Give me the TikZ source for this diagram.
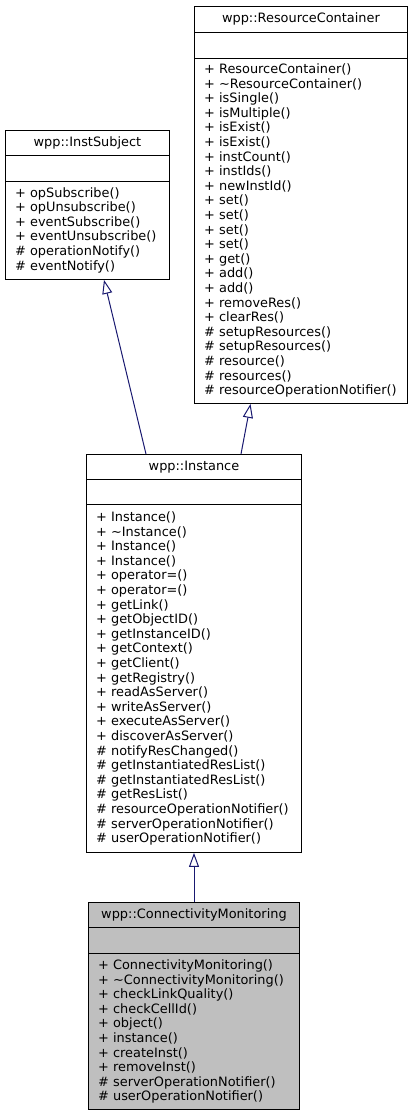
\documentclass[tikz,border=0pt]{standalone}
\usepackage{fontspec}
\setmainfont{DejaVu Sans}
\usetikzlibrary{arrows.meta,calc}
\definecolor{edgeblue}{HTML}{191970}
\definecolor{cmgray}{HTML}{BFBFBF}
\tikzset{
  classbox/.style={draw=black, line width=0.9pt, fill=white, inner sep=0pt, anchor=north west},
  sepline/.style={draw=black, line width=0.9pt},
  classtitle/.style={anchor=base, inner sep=0pt, font=\fontsize{12.9}{14.6}\selectfont},
  member/.style={anchor=base west, inner sep=0pt, font=\fontsize{12.9}{14.6}\selectfont},
  inherit/.style={draw=edgeblue, line width=1pt, -{Triangle[open, length=14pt, width=10pt, fill=white]}},
}
\begin{document}
\begin{tikzpicture}[x=1pt,y=-1pt]
\useasboundingbox (0,0) rectangle (413,1116);

% wpp::ResourceContainer
\node[classbox, minimum width=213pt, minimum height=397pt] (rc) at (194,6) {};
\draw[sepline] ($(rc.north west)+(0,26)$) -- ($(rc.north east)+(0,26)$);
\draw[sepline] ($(rc.north west)+(0,52)$) -- ($(rc.north east)+(0,52)$);
\node[classtitle] (rc-t) at ($(rc.north)+(0,16.5)$) {wpp::ResourceContainer};
\foreach \m [count=\i from 0] in {%
  + ResourceContainer(), + \textasciitilde ResourceContainer(), + isSingle(), + isMultiple(),
  + isExist(), + isExist(), + instCount(), + instIds(), + newInstId(),
  + set(), + set(), + set(), + set(), + get(), + add(), + add(),
  + removeRes(), + clearRes(), \# setupResources(), \# setupResources(),
  \# resource(), \# resources(), \# resourceOperationNotifier()}
  \node[member] (rc-m\i) at ($(rc.north west)+(10,67.5+\i*14.6)$) {\m};

% wpp::InstSubject
\node[classbox, minimum width=164pt, minimum height=149pt] (is) at (5,130) {};
\draw[sepline] ($(is.north west)+(0,25)$) -- ($(is.north east)+(0,25)$);
\draw[sepline] ($(is.north west)+(0,51)$) -- ($(is.north east)+(0,51)$);
\node[classtitle] (is-t) at ($(is.north)+(0,16.5)$) {wpp::InstSubject};
\foreach \m [count=\i from 0] in {%
  + opSubscribe(), + opUnsubscribe(), + eventSubscribe(), + eventUnsubscribe(),
  \# operationNotify(), \# eventNotify()}
  \node[member] (is-m\i) at ($(is.north west)+(10,67+\i*14.6)$) {\m};

% wpp::Instance
\node[classbox, minimum width=215pt, minimum height=398pt] (inst) at (86,454) {};
\draw[sepline] ($(inst.north west)+(0,25)$) -- ($(inst.north east)+(0,25)$);
\draw[sepline] ($(inst.north west)+(0,50)$) -- ($(inst.north east)+(0,50)$);
\node[classtitle] (inst-t) at ($(inst.north)+(0,16.5)$) {wpp::Instance};
\foreach \m [count=\i from 0] in {%
  + Instance(), + \textasciitilde Instance(), + Instance(), + Instance(),
  + operator=(), + operator=(), + getLink(), + getObjectID(), + getInstanceID(),
  + getContext(), + getClient(), + getRegistry(), + readAsServer(), + writeAsServer(),
  + executeAsServer(), + discoverAsServer(), \# notifyResChanged(),
  \# getInstantiatedResList(), \# getInstantiatedResList(), \# getResList(),
  \# resourceOperationNotifier(), \# serverOperationNotifier(), \# userOperationNotifier()}
  \node[member] (inst-m\i) at ($(inst.north west)+(10,67.5+\i*14.6)$) {\m};

% wpp::ConnectivityMonitoring
\node[classbox, fill=cmgray, minimum width=211pt, minimum height=207pt] (cm) at (88,902) {};
\draw[sepline] ($(cm.north west)+(0,25)$) -- ($(cm.north east)+(0,25)$);
\draw[sepline] ($(cm.north west)+(0,51)$) -- ($(cm.north east)+(0,51)$);
\node[classtitle] (cm-t) at ($(cm.north)+(0,16.5)$) {wpp::ConnectivityMonitoring};
\foreach \m [count=\i from 0] in {%
  + ConnectivityMonitoring(), + \textasciitilde ConnectivityMonitoring(),
  + checkLinkQuality(), + checkCellId(), + object(), + instance(),
  + createInst(), + removeInst(), \# serverOperationNotifier(), \# userOperationNotifier()}
  \node[member] (cm-m\i) at ($(cm.north west)+(10,67.5+\i*14.6)$) {\m};

% inheritance connectors
\coordinate (e1s) at ($(inst.north west)+(60,0)$);
\coordinate (e1t) at ($(is.south west)+(99,0)$);
\coordinate (e2s) at ($(inst.north west)+(155,0)$);
\coordinate (e2t) at ($(rc.south west)+(56.5,0)$);
\coordinate (e3s) at ($(cm.north west)+(106,0)$);
\coordinate (e3t) at ($(inst.south west)+(108,0)$);
\draw[inherit] (e1s) -- (e1t);
\draw[inherit] (e2s) -- (e2t);
\draw[inherit] (e3s) -- (e3t);
\end{tikzpicture}
\end{document}
